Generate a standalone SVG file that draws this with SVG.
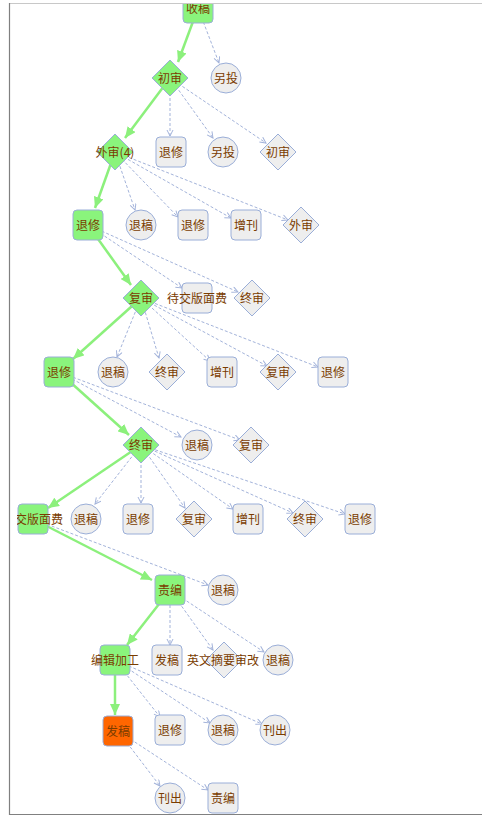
<svg xmlns="http://www.w3.org/2000/svg" width="482" height="820" viewBox="0 0 482 820">
<defs>
<style>
.box{fill:#eeeeee;stroke:#9aaed8;stroke-width:1}
.ok{fill:#8af47c}
.hot{fill:#ff6600}
.t{font-family:"Noto Sans CJK SC","Liberation Sans",sans-serif;font-size:12px;fill:#7a3c00;text-anchor:middle}
.g{stroke:#8cf07c;stroke-width:2.5;fill:none}
.d{stroke:#a3b3da;stroke-width:1;stroke-dasharray:3 2;fill:none}
</style>
<marker id="ga" markerUnits="userSpaceOnUse" markerWidth="11" markerHeight="10" refX="11" refY="5" orient="auto"><path d="M0,0 L11,5 L0,10 z" fill="#8cf07c"/></marker>
<marker id="da" markerUnits="userSpaceOnUse" markerWidth="8" markerHeight="8" refX="6.5" refY="3.5" orient="auto"><path d="M0.5,0.5 L6.5,3.5 L0.5,6.5" fill="none" stroke="#a3b3da" stroke-width="1"/></marker>
<clipPath id="area"><rect x="10" y="4" width="472" height="810"/></clipPath>
<clipPath id="lc"><rect x="17" y="500" width="100" height="40"/></clipPath>
</defs>
<rect x="0" y="0" width="482" height="820" fill="#ffffff"/>
<g clip-path="url(#area)">
<g id="connectors">
<line class="g" x1="198" y1="8" x2="178" y2="62" marker-end="url(#ga)"/>
<line class="g" x1="170" y1="78" x2="125" y2="138" marker-end="url(#ga)"/>
<line class="g" x1="115" y1="152" x2="95" y2="208" marker-end="url(#ga)"/>
<line class="g" x1="88" y1="225" x2="131" y2="285" marker-end="url(#ga)"/>
<line class="g" x1="141" y1="298" x2="73" y2="359" marker-end="url(#ga)"/>
<line class="g" x1="59" y1="372" x2="129" y2="435" marker-end="url(#ga)"/>
<line class="g" x1="141" y1="445" x2="48" y2="508" marker-end="url(#ga)"/>
<line class="g" x1="33" y1="519" x2="152" y2="580" marker-end="url(#ga)"/>
<line class="g" x1="170" y1="590" x2="127" y2="645" marker-end="url(#ga)"/>
<line class="g" x1="115" y1="660" x2="115" y2="715" marker-end="url(#ga)"/>
<line class="d" x1="198" y1="8" x2="219" y2="63" marker-end="url(#da)"/>
<line class="d" x1="170" y1="78" x2="170" y2="136" marker-end="url(#da)"/>
<line class="d" x1="170" y1="78" x2="213" y2="138" marker-end="url(#da)"/>
<line class="d" x1="170" y1="78" x2="266" y2="143" marker-end="url(#da)"/>
<line class="d" x1="115" y1="152" x2="135" y2="210" marker-end="url(#da)"/>
<line class="d" x1="115" y1="152" x2="178" y2="217" marker-end="url(#da)"/>
<line class="d" x1="115" y1="152" x2="231" y2="218" marker-end="url(#da)"/>
<line class="d" x1="115" y1="152" x2="288" y2="220" marker-end="url(#da)"/>
<line class="d" x1="88" y1="225" x2="182" y2="288" marker-end="url(#da)"/>
<line class="d" x1="88" y1="225" x2="238" y2="292" marker-end="url(#da)"/>
<line class="d" x1="141" y1="298" x2="117" y2="357" marker-end="url(#da)"/>
<line class="d" x1="141" y1="298" x2="159" y2="358" marker-end="url(#da)"/>
<line class="d" x1="141" y1="298" x2="210" y2="361" marker-end="url(#da)"/>
<line class="d" x1="141" y1="298" x2="267" y2="366" marker-end="url(#da)"/>
<line class="d" x1="141" y1="298" x2="318" y2="367" marker-end="url(#da)"/>
<line class="d" x1="59" y1="372" x2="181" y2="437" marker-end="url(#da)"/>
<line class="d" x1="59" y1="372" x2="240" y2="440" marker-end="url(#da)"/>
<line class="d" x1="141" y1="445" x2="95" y2="504" marker-end="url(#da)"/>
<line class="d" x1="141" y1="445" x2="141" y2="503" marker-end="url(#da)"/>
<line class="d" x1="141" y1="445" x2="185" y2="508" marker-end="url(#da)"/>
<line class="d" x1="141" y1="445" x2="233" y2="509" marker-end="url(#da)"/>
<line class="d" x1="141" y1="445" x2="293" y2="513" marker-end="url(#da)"/>
<line class="d" x1="141" y1="445" x2="345" y2="514" marker-end="url(#da)"/>
<line class="d" x1="33" y1="519" x2="208" y2="585" marker-end="url(#da)"/>
<line class="d" x1="170" y1="590" x2="170" y2="645" marker-end="url(#da)"/>
<line class="d" x1="170" y1="590" x2="213" y2="650" marker-end="url(#da)"/>
<line class="d" x1="170" y1="590" x2="264" y2="652" marker-end="url(#da)"/>
<line class="d" x1="115" y1="660" x2="160" y2="717" marker-end="url(#da)"/>
<line class="d" x1="115" y1="660" x2="210" y2="723" marker-end="url(#da)"/>
<line class="d" x1="115" y1="660" x2="262" y2="724" marker-end="url(#da)"/>
<line class="d" x1="118" y1="731" x2="160" y2="786" marker-end="url(#da)"/>
<line class="d" x1="118" y1="731" x2="208" y2="790" marker-end="url(#da)"/>
</g>
<g id="n1"><rect class="box ok" x="183" y="-7" width="30" height="30" rx="4"/><text class="t" x="198" y="12.5">收稿</text></g>
<g id="n2"><circle class="box" cx="226" cy="78" r="15"/><text class="t" x="226" y="82.5">另投</text></g>
<g id="n3"><polygon class="box ok" points="170,60 188,78 170,96 152,78"/><text class="t" x="170" y="82.5">初审</text></g>
<g id="n4"><polygon class="box ok" points="115,134 133,152 115,170 97,152"/><text class="t" x="115" y="156.5">外审(4)</text></g>
<g id="n5"><rect class="box" x="156" y="137" width="30" height="30" rx="4"/><text class="t" x="171" y="156.5">退修</text></g>
<g id="n6"><circle class="box" cx="223" cy="152" r="15"/><text class="t" x="223" y="156.5">另投</text></g>
<g id="n7"><polygon class="box" points="278,134 296,152 278,170 260,152"/><text class="t" x="278" y="156.5">初审</text></g>
<g id="n8"><rect class="box ok" x="73" y="210" width="30" height="30" rx="4"/><text class="t" x="88" y="229.5">退修</text></g>
<g id="n9"><circle class="box" cx="141" cy="225" r="15"/><text class="t" x="141" y="229.5">退稿</text></g>
<g id="n10"><rect class="box" x="178" y="210" width="30" height="30" rx="4"/><text class="t" x="193" y="229.5">退修</text></g>
<g id="n11"><rect class="box" x="231" y="210" width="30" height="30" rx="4"/><text class="t" x="246" y="229.5">增刊</text></g>
<g id="n12"><polygon class="box" points="301,207 319,225 301,243 283,225"/><text class="t" x="301" y="229.5">外审</text></g>
<g id="n13"><polygon class="box ok" points="141,280 159,298 141,316 123,298"/><text class="t" x="141" y="302.5">复审</text></g>
<g id="n14"><rect class="box" x="182" y="283" width="30" height="30" rx="4"/><text class="t" x="197" y="302.5">待交版面费</text></g>
<g id="n15"><polygon class="box" points="252,280 270,298 252,316 234,298"/><text class="t" x="252" y="302.5">终审</text></g>
<g id="n16"><rect class="box ok" x="44" y="357" width="30" height="30" rx="4"/><text class="t" x="59" y="376.5">退修</text></g>
<g id="n17"><circle class="box" cx="113" cy="372" r="15"/><text class="t" x="113" y="376.5">退稿</text></g>
<g id="n18"><polygon class="box" points="167,354 185,372 167,390 149,372"/><text class="t" x="167" y="376.5">终审</text></g>
<g id="n19"><rect class="box" x="207" y="357" width="30" height="30" rx="4"/><text class="t" x="222" y="376.5">增刊</text></g>
<g id="n20"><polygon class="box" points="278,354 296,372 278,390 260,372"/><text class="t" x="278" y="376.5">复审</text></g>
<g id="n21"><rect class="box" x="318" y="357" width="30" height="30" rx="4"/><text class="t" x="333" y="376.5">退修</text></g>
<g id="n22"><polygon class="box ok" points="141,427 159,445 141,463 123,445"/><text class="t" x="141" y="449.5">终审</text></g>
<g id="n23"><circle class="box" cx="197" cy="445" r="15"/><text class="t" x="197" y="449.5">退稿</text></g>
<g id="n24"><polygon class="box" points="251,427 269,445 251,463 233,445"/><text class="t" x="251" y="449.5">复审</text></g>
<g id="n25"><rect class="box ok" x="18" y="504" width="30" height="30" rx="4"/><text class="t" x="63" y="523.5" style="text-anchor:end" clip-path="url(#lc)">交版面费</text></g>
<g id="n26"><circle class="box" cx="86" cy="519" r="15"/><text class="t" x="86" y="523.5">退稿</text></g>
<g id="n27"><rect class="box" x="123" y="504" width="30" height="30" rx="4"/><text class="t" x="138" y="523.5">退修</text></g>
<g id="n28"><polygon class="box" points="194,501 212,519 194,537 176,519"/><text class="t" x="194" y="523.5">复审</text></g>
<g id="n29"><rect class="box" x="233" y="504" width="30" height="30" rx="4"/><text class="t" x="248" y="523.5">增刊</text></g>
<g id="n30"><polygon class="box" points="305,501 323,519 305,537 287,519"/><text class="t" x="305" y="523.5">终审</text></g>
<g id="n31"><rect class="box" x="345" y="504" width="30" height="30" rx="4"/><text class="t" x="360" y="523.5">退修</text></g>
<g id="n32"><rect class="box ok" x="155" y="575" width="30" height="30" rx="4"/><text class="t" x="170" y="594.5">责编</text></g>
<g id="n33"><circle class="box" cx="223" cy="590" r="15"/><text class="t" x="223" y="594.5">退稿</text></g>
<g id="n34"><rect class="box ok" x="100" y="645" width="30" height="30" rx="4"/><text class="t" x="115" y="664.5">编辑加工</text></g>
<g id="n35"><rect class="box" x="152" y="645" width="30" height="30" rx="4"/><text class="t" x="167" y="664.5">发稿</text></g>
<g id="n36"><polygon class="box" points="224,642 242,660 224,678 206,660"/><text class="t" x="223" y="664.5">英文摘要审改</text></g>
<g id="n37"><circle class="box" cx="278" cy="660" r="15"/><text class="t" x="278" y="664.5">退稿</text></g>
<g id="n38"><rect class="box hot" x="103" y="716" width="30" height="30" rx="4"/><text class="t" x="118" y="735.5">发稿</text></g>
<g id="n39"><rect class="box" x="155" y="715" width="30" height="30" rx="4"/><text class="t" x="170" y="734.5">退修</text></g>
<g id="n40"><circle class="box" cx="223" cy="730" r="15"/><text class="t" x="223" y="734.5">退稿</text></g>
<g id="n41"><circle class="box" cx="275" cy="730" r="15"/><text class="t" x="275" y="734.5">刊出</text></g>
<g id="n42"><circle class="box" cx="170" cy="798" r="15"/><text class="t" x="170" y="802.5">刊出</text></g>
<g id="n43"><rect class="box" x="208" y="783" width="30" height="30" rx="4"/><text class="t" x="223" y="802.5">责编</text></g>
</g>
<line x1="9" y1="3.5" x2="482" y2="3.5" stroke="#c8c8c8" stroke-width="1"/>
<line x1="9.5" y1="3" x2="9.5" y2="815" stroke="#808080" stroke-width="1.2"/>
<line x1="9" y1="814.5" x2="482" y2="814.5" stroke="#808080" stroke-width="1.2"/>
</svg>
